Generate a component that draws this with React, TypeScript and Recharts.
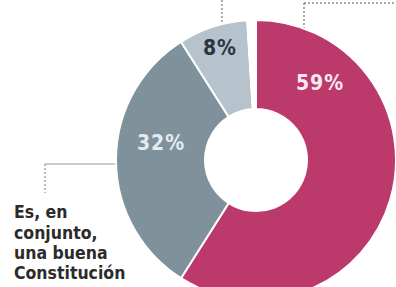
import React from 'react';
import { PieChart, Pie, Cell, Customized } from 'recharts';

const categories = ['Necesita reformas', 'Es, en conjunto, una buena Constitución', 'Hay que cambiarla', 'NS/NC'];
const values = [59, 32, 8, 1];
const valueLabels = ['59%', '32%', '8%', ''];

const colors = ['#bc396c', '#7f929c', '#b6c3cc', '#ffffff'];
const labelColors = ['#fbe9f0', '#e4eaee', '#2a3542', '#ffffff'];
// label offsets from the pie centre
const labelOffsets = [
  [64, -77],
  [-95, -17],
  [-36, -112],
  [0, 0],
];

const data = categories.map((c, i) => ({ name: c, value: values[i] }));

const CX = 256;
const CY = 160;

const renderLabel = (props: any) => {
  const { cx, cy, index } = props;
  if (!valueLabels[index]) return null;
  const [dx, dy] = labelOffsets[index];
  return (
    <text
      x={cx + dx}
      y={cy + dy}
      fill={labelColors[index]}
      textAnchor="middle"
      dominantBaseline="central"
      fontFamily="'DejaVu Sans Condensed', 'DejaVu Sans', sans-serif"
      fontWeight="bold"
      fontSize={21}
      letterSpacing={1}
    >
      {valueLabels[index]}
    </text>
  );
};

const Annotations = () => {
  const dot = '2 2';
  return (
    <g>
      {/* 8% leader */}
      <line x1={CX - 34} y1={0} x2={CX - 34} y2={28} stroke="#555" strokeWidth={1} strokeDasharray={dot} />
      {/* 59% leader */}
      <line x1={CX + 48} y1={3} x2={CX + 48} y2={47} stroke="#555" strokeWidth={1} strokeDasharray={dot} />
      <line x1={CX + 48} y1={3} x2={396} y2={3} stroke="#555" strokeWidth={1} strokeDasharray={dot} />
      {/* 32% leader */}
      <line x1={45} y1={CY + 4} x2={CX - 109} y2={CY + 4} stroke="#8d9aa2" strokeWidth={1.2} />
      <line x1={45} y1={CY + 4} x2={45} y2={CY + 33} stroke="#777" strokeWidth={1} strokeDasharray={dot} />
      <text
        x={14}
        fill="#2b2b2b"
        fontFamily="'DejaVu Sans Condensed', 'DejaVu Sans', sans-serif"
        fontWeight="bold"
        fontSize={17.5}
      >
        <tspan x={14} y={218}>Es, en</tspan>
        <tspan x={14} y={238.5}>conjunto,</tspan>
        <tspan x={14} y={259}>una buena</tspan>
        <tspan x={14} y={279}>Constitución</tspan>
      </text>
    </g>
  );
};

export default function App() {
  return (
    <div style={{ position: 'absolute', left: 0, top: 0, width: 396, height: 287, background: '#fff' }}>
      <PieChart width={396} height={287} margin={{ top: 0, right: 0, bottom: 0, left: 0 }}>
        <Pie
          data={data}
          dataKey="value"
          cx={CX}
          cy={CY}
          innerRadius={51}
          outerRadius={140}
          startAngle={90}
          endAngle={-270}
          stroke="#ffffff"
          strokeWidth={2}
          label={renderLabel}
          labelLine={false}
          isAnimationActive={false}
        >
          {data.map((d, i) => (
            <Cell key={d.name} fill={colors[i]} />
          ))}
        </Pie>
        <Customized component={Annotations} />
      </PieChart>
    </div>
  );
}
